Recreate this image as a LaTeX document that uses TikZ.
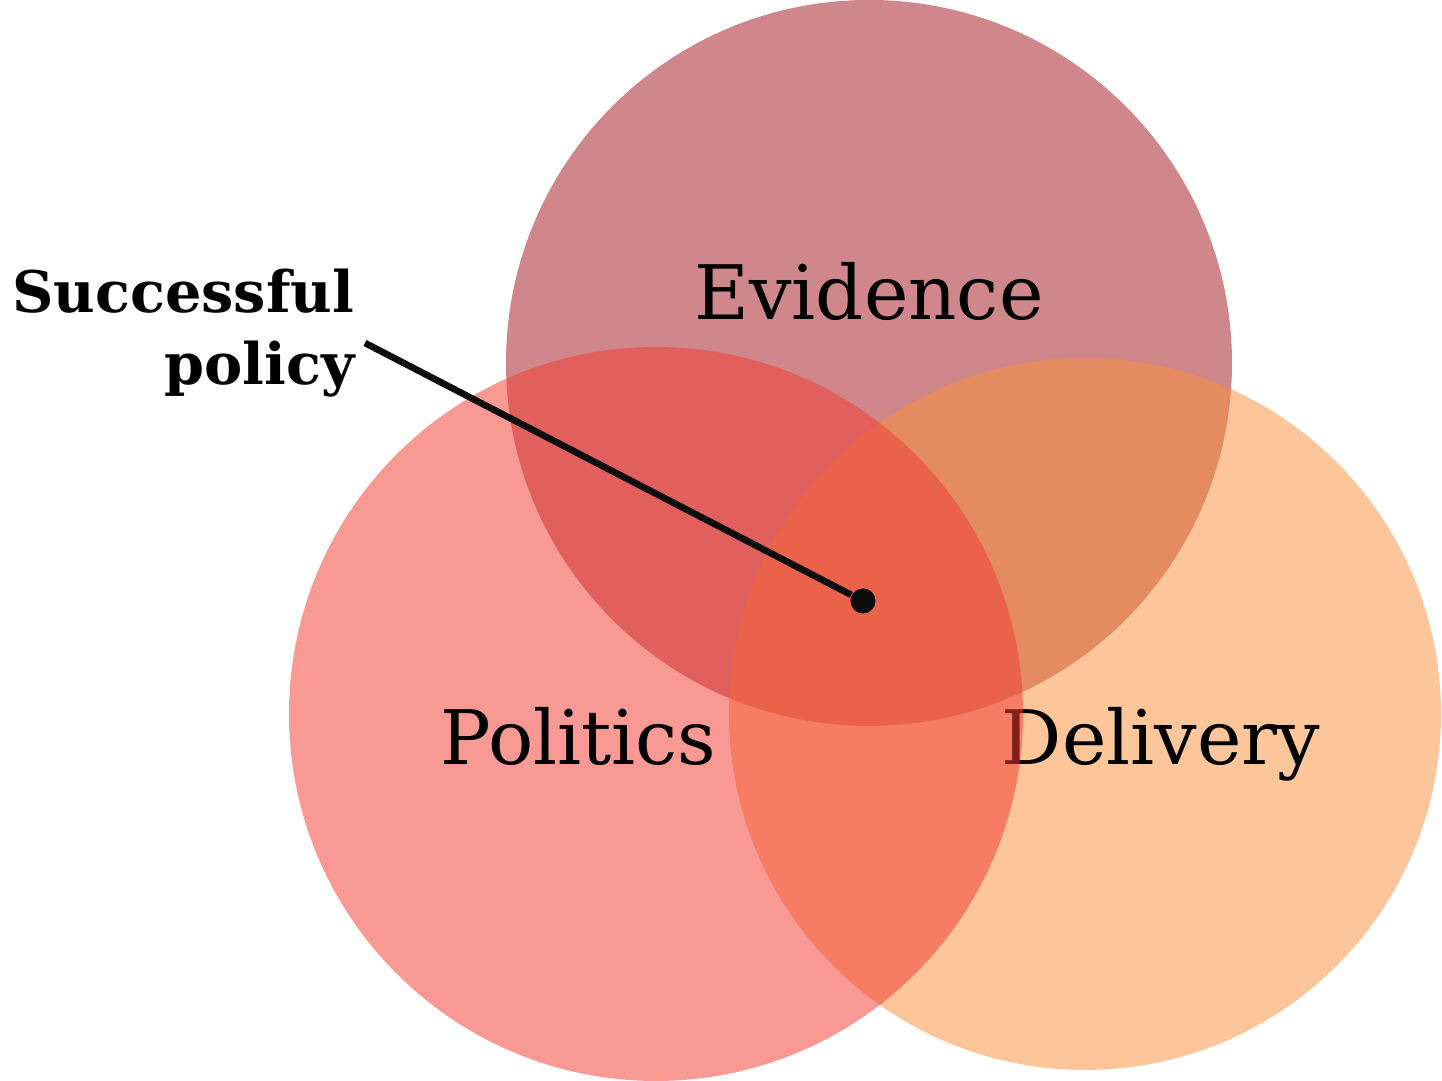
\documentclass[tikz,border=0pt]{standalone}
\usepackage{fontspec}
\setmainfont{DejaVu Serif}
\usepackage{tikz}
\usetikzlibrary{positioning}

\definecolor{evidencered}{RGB}{164,28,36}
\definecolor{deliveryorange}{RGB}{249,145,64}
\definecolor{politicsred}{RGB}{241,62,53}

\tikzset{
  venn/.style={circle, inner sep=0pt, fill opacity=0.53},
  setlabel/.style={font=\fontsize{21.4}{24}\selectfont, text=black, anchor=base, inner sep=0pt}
}

\begin{document}
\begin{tikzpicture}
\useasboundingbox (0,0) rectangle (14.42,10.81);

\node [venn, fill=evidencered, minimum size=7.26cm] (evidence) at (8.69,7.18) {};
\node [setlabel] (evidencetext) at (8.69,7.61) {Evidence};

\node [venn, fill=deliveryorange, minimum size=7.12cm] (delivery) at (10.85,3.67) {};
\node [setlabel] (deliverytext) at (11.61,3.16) {Delivery};

\node [venn, fill=politicsred, minimum size=7.34cm] (politics) at (6.56,3.67) {};
\node [setlabel] (politicstext) at (5.785,3.16) {Politics};

% % % % % % % % % % % % % % % % % % % % % % % % % %

\node [circle, fill=black!95, inner sep=0pt, minimum size=0.25cm] (core) at (8.63,4.80) {};
\node [align=right, anchor=base east, inner sep=0pt, font=\bfseries\fontsize{16.3}{20.5}\selectfont] (policy) at (3.55,6.96) {Successful\\policy};
\coordinate (lead) at (3.65,7.38);
\draw [line width=1.9pt, black!95] (lead) -- (core);
\end{tikzpicture}
\end{document}
